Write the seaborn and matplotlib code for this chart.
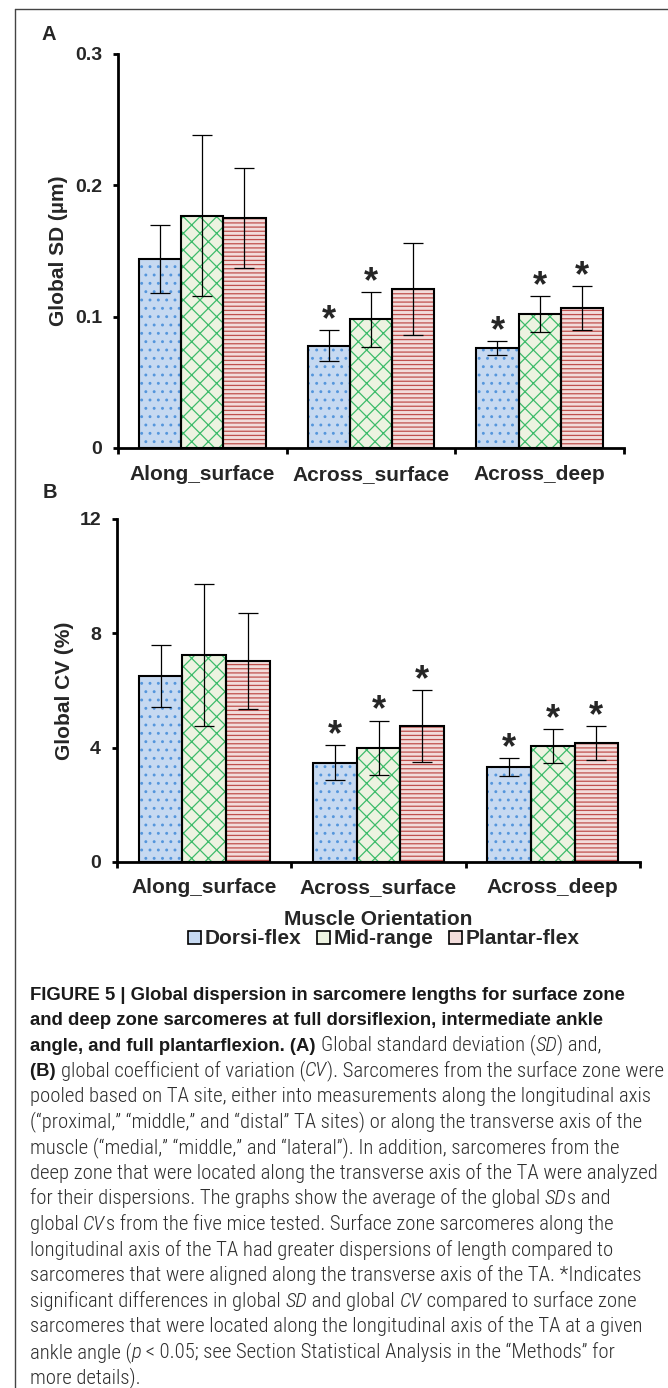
import numpy as np
import pandas as pd
import matplotlib
matplotlib.use("Agg")
import matplotlib.pyplot as plt
import seaborn as sns
from matplotlib import font_manager as fm
from matplotlib.font_manager import FontProperties
from matplotlib.patches import Rectangle, Patch
from matplotlib.lines import Line2D

# ---------------- data ----------------
orientations = ["Along_surface", "Across_surface", "Across_deep"]
angles = ["Dorsi-flex", "Mid-range", "Plantar-flex"]

# Panel A: global SD (um)
sd_dorsi = [0.144, 0.078, 0.076]
sd_mid = [0.177, 0.098, 0.102]
sd_plantar = [0.175, 0.121, 0.1065]
sd_err_dorsi = [0.026, 0.012, 0.0055]
sd_err_mid = [0.061, 0.021, 0.0135]
sd_err_plantar = [0.038, 0.035, 0.017]
sd_star_dorsi = [False, True, True]
sd_star_mid = [False, True, True]
sd_star_plantar = [False, False, True]

# Panel B: global CV (%)
cv_dorsi = [6.50, 3.47, 3.32]
cv_mid = [7.24, 3.99, 4.06]
cv_plantar = [7.03, 4.75, 4.16]
cv_err_dorsi = [1.08, 0.61, 0.32]
cv_err_mid = [2.49, 0.96, 0.60]
cv_err_plantar = [1.67, 1.26, 0.60]
cv_star_dorsi = [False, True, True]
cv_star_mid = [False, True, True]
cv_star_plantar = [False, True, True]

sd_ticks = [0, 0.1, 0.2, 0.3]
sd_ticklabels = ["0", "0.1", "0.2", "0.3"]
cv_ticks = [0, 4, 8, 12]
cv_ticklabels = ["0", "4", "8", "12"]

caption_lines = [
    [("FIGURE 5 | Global dispersion in sarcomere lengths for surface zone", "b")],
    [("and deep zone sarcomeres at full dorsiflexion, intermediate ankle", "b")],
    [("angle, and full plantarflexion. (A) ", "b"), ("Global standard deviation (", "r"),
     ("SD", "i"), (") and,", "r")],
    [("(B) ", "b"), ("global coefficient of variation (", "r"), ("CV", "i"),
     ("). Sarcomeres from the surface zone were", "r")],
    [("pooled based on TA site, either into measurements along the longitudinal axis", "r")],
    [("(\u201cproximal,\u201d \u201cmiddle,\u201d and \u201cdistal\u201d TA sites) or along the transverse axis of the", "r")],
    [("muscle (\u201cmedial,\u201d \u201cmiddle,\u201d and \u201clateral\u201d). In addition, sarcomeres from the", "r")],
    [("deep zone that were located along the transverse axis of the TA were analyzed", "r")],
    [("for their dispersions. The graphs show the average of the global ", "r"), ("SD", "i"), ("s and", "r")],
    [("global ", "r"), ("CV", "i"), ("s from the five mice tested. Surface zone sarcomeres along the", "r")],
    [("longitudinal axis of the TA had greater dispersions of length compared to", "r")],
    [("sarcomeres that were aligned along the transverse axis of the TA. *Indicates", "r")],
    [("significant differences in global ", "r"), ("SD", "i"), (" and global ", "r"), ("CV", "i"),
     (" compared to surface zone", "r")],
    [("sarcomeres that were located along the longitudinal axis of the TA at a given", "r")],
    [("ankle angle (", "r"), ("p", "i"), (" < 0.05; see Section Statistical Analysis in the \u201cMethods\u201d for", "r")],
    [("more details).", "r")],
]

# ---------------- style ----------------
W, H = 668, 1388
sns.set_style("ticks")
plt.rcParams["font.family"] = ["Liberation Sans", "DejaVu Sans"]
plt.rcParams["font.weight"] = "bold"
plt.rcParams["hatch.linewidth"] = 0.9

fill_colors = ["#c6d9f1", "#edf3e1", "#f2dcdb"]
hatch_colors = ["#5596dc", "#3dbb6a", "#c0504d"]
hatches = ["..", "xx", "----"]

fig = plt.figure(figsize=(W / 100, H / 100), dpi=100)
fig.patch.set_facecolor("white")


def fx(px):
    return px / W


def fy(px):
    return 1 - px / H


def panel(rect_px, means, errs, stars, ylim, yticks, yticklabels, ylabel, label_x, xpad):
    left, top, right, bottom = rect_px
    ax = fig.add_axes([fx(left), fy(bottom), (right - left) / W, (bottom - top) / H])
    df = pd.DataFrame({
        "orientation": np.tile(orientations, len(angles)),
        "angle": np.repeat(angles, len(orientations)),
        "value": np.concatenate(means),
    })
    sns.barplot(data=df, x="orientation", y="value", hue="angle",
                order=orientations, hue_order=angles,
                palette=dict(zip(angles, fill_colors)), saturation=1,
                width=0.75, errorbar=None, legend=False, linewidth=0, ax=ax)
    bars = [p for p in ax.patches if isinstance(p, Rectangle)]
    for p in bars:
        w = p.get_width()
        cx = p.get_x() + w / 2
        ci = int(round(cx))
        hi = int(round((cx - ci) / w)) + 1
        p.set_hatch(hatches[hi])
        p.set_edgecolor(hatch_colors[hi])
        p.set_linewidth(0)
        ax.add_patch(Rectangle((p.get_x(), p.get_y()), w, p.get_height(),
                               fill=False, edgecolor="black", linewidth=1.5, zorder=3))
        m = means[hi][ci]
        e = errs[hi][ci]
        ax.errorbar(cx, m, yerr=e, fmt="none", ecolor="black", elinewidth=0.9,
                    capsize=7, capthick=0.9, zorder=4)
        if stars[hi][ci]:
            ax.annotate("*", xy=(cx, m + e), xytext=(0, 0), textcoords="offset points",
                        ha="center", va="baseline", fontsize=26, fontweight="bold",
                        zorder=5)
    ax.set_xlim(-0.5, 2.5)
    ax.set_ylim(*ylim)
    ax.set_yticks(yticks)
    ax.set_yticklabels(yticklabels)
    ax.set_xticks([-0.5, 0.5, 1.5, 2.5])
    ax.set_xticklabels([""] * 4)
    ax.set_xticks([0, 1, 2], minor=True)
    ax.set_xticklabels(orientations, minor=True)
    ax.tick_params(axis="x", which="major", direction="out", length=4.5, width=2, color="black")
    ax.tick_params(axis="x", which="minor", length=0, pad=xpad, labelsize=15)
    ax.tick_params(axis="y", direction="out", length=3.6, width=2, pad=8, labelsize=14,
                   color="black")
    sns.despine(ax=ax)
    for s in ["left", "bottom"]:
        ax.spines[s].set_linewidth(2)
        ax.spines[s].set_color("black")
    ax.set_facecolor("none")
    ax.set_xlabel("")
    ax.set_ylabel(ylabel, fontsize=15, fontweight="bold")
    ax.yaxis.set_label_coords(label_x, 0.5)
    return ax


ax_a = panel((118, 54, 624, 448),
             [sd_dorsi, sd_mid, sd_plantar],
             [sd_err_dorsi, sd_err_mid, sd_err_plantar],
             [sd_star_dorsi, sd_star_mid, sd_star_plantar],
             (0, 0.3), sd_ticks, sd_ticklabels, "Global SD (\u00b5m)", -0.099, 12)

ax_b = panel((117, 519, 640, 862),
             [cv_dorsi, cv_mid, cv_plantar],
             [cv_err_dorsi, cv_err_mid, cv_err_plantar],
             [cv_star_dorsi, cv_star_mid, cv_star_plantar],
             (0, 12), cv_ticks, cv_ticklabels, "Global CV (%)", -0.082, 11.5)
ax_b.set_xlabel("Muscle Orientation", fontsize=15, fontweight="bold", labelpad=9.5)

# panel letters
fig.text(fx(42), fy(40), "A", fontsize=14.5, fontweight="bold", va="baseline", ha="left")
fig.text(fx(43), fy(498), "B", fontsize=14.5, fontweight="bold", va="baseline", ha="left")

# legend
handles = [Patch(facecolor=fill_colors[i], edgecolor="black", linewidth=1.2, label=angles[i])
           for i in range(3)]
fig.legend(handles=handles, loc="center", bbox_to_anchor=(fx(384), fy(939)), ncol=3,
           frameon=False, handlelength=0.6, handleheight=0.6, handletextpad=0.2,
           columnspacing=0.75, borderpad=0, borderaxespad=0,
           prop={"weight": "bold", "size": 15, "family": "Liberation Sans"})

# outer frame
fig.add_artist(Line2D([fx(15), fx(15)], [fy(8.5), fy(H)], color="#444444", linewidth=1.0))
fig.add_artist(Line2D([fx(15), fx(W)], [fy(8.5), fy(8.5)], color="#444444", linewidth=1.0))

# caption
names = {f.name for f in fm.fontManager.ttflist}
cap_family = "Liberation Sans"
for cand in ["Roboto Condensed", "Liberation Sans Narrow", "Roboto"]:
    if cand in names:
        cap_family = cand
        break
bold_family = "Liberation Sans"
renderer = fig.canvas.get_renderer()
bold_color = "#1a1a1a"
reg_color = "#2e2e2e"


def props(sty, size, bsize):
    if sty == "b":
        return FontProperties(family=bold_family, weight="bold", size=bsize)
    if sty == "i":
        return FontProperties(family=cap_family, weight="light", style="italic", size=size)
    return FontProperties(family=cap_family, weight="light", size=size)


def width_of(s, prop):
    w1, _, _ = renderer.get_text_width_height_descent("|" + s + "|", prop, ismath=False)
    w2, _, _ = renderer.get_text_width_height_descent("||", prop, ismath=False)
    return w1 - w2


w10 = width_of(caption_lines[7][0][0], props("r", 10, 10))
cap_size = 10 * 624 / w10
wb10 = width_of(caption_lines[0][0][0], props("b", 10, 10))
bold_size = 10 * 598 / wb10

x0 = 30
base0 = 999.5
step = 25.6
for i, runs in enumerate(caption_lines):
    x = x0
    b = base0 + i * step
    for txt, sty in runs:
        pr = props(sty, cap_size, bold_size)
        fig.text(fx(x), fy(b), txt, fontproperties=pr, va="baseline", ha="left",
                 color=bold_color if sty == "b" else reg_color)
        x += width_of(txt, pr)

fig.savefig("out.png", dpi=100, facecolor="white")
